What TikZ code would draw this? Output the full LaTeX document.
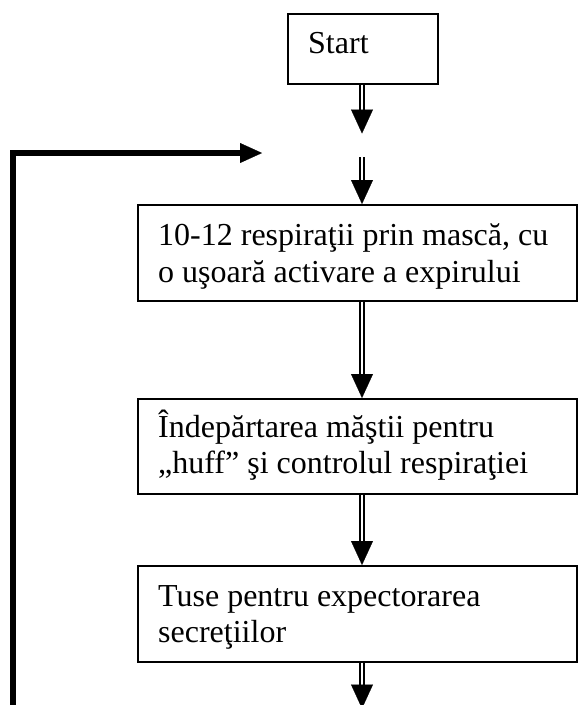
\documentclass[tikz,border=0pt]{standalone}
\usepackage{fontspec}
\setmainfont{Liberation Serif}
\usetikzlibrary{arrows.meta,calc}

\tikzset{
  box/.style={draw, line width=1.5pt, inner sep=0pt, anchor=north west},
  txt/.style={inner sep=0pt, anchor=base west, font=\fontsize{32}{33}\selectfont},
  shaft/.style={double, double distance=2.8pt, line width=1.4pt},
  head/.style={line width=0.2pt, -{Triangle[width=22pt,length=24pt]}},
  fbline/.style={line width=6pt, line join=miter},
  fbhead/.style={line width=0.2pt, -{Triangle[width=20pt,length=22pt]}}
}

\begin{document}
\begin{tikzpicture}[x=1pt, y=-1pt]
  \useasboundingbox (0,0) rectangle (579,705);

  % boxes
  \node[box, minimum width=150pt, minimum height=70pt] (start) at (287,13) {};
  \node[box, minimum width=439pt, minimum height=96pt] (b2) at (137,204) {};
  \node[box, minimum width=439pt, minimum height=95pt] (b3) at (137,398) {};
  \node[box, minimum width=439pt, minimum height=96pt] (b4) at (137,565) {};

  % texts
  \node[txt] (tstart) at (308,53) {Start};
  \node[txt] (t2a) at (158,245) {10-12 respiraţii prin mască, cu};
  \node[txt] (t2b) at (158,282) {o uşoară activare a expirului};
  \node[txt] (t3a) at (158,437) {Îndepărtarea măştii pentru};
  \node[txt] (t3b) at (158,473) {„huff” şi controlul respiraţiei};
  \node[txt] (t4a) at (158,606) {Tuse pentru expectorarea};
  \node[txt] (t4b) at (158,642) {secreţiilor};

  % vertical axis of the flow
  \coordinate (ax) at (362,0);

  % Start -> free end
  \draw[shaft] (start.south -| ax) -- ++(0,25) coordinate (h1);
  \draw[head] (h1) -- ++(0,24) coordinate (e1);

  % re-entry -> box 2
  \coordinate (s2) at (362,157);
  \draw[shaft] (s2) -- ($(s2 |- b2.north)+(0,-24)$) coordinate (h2);
  \draw[head] (h2) -- (ax |- b2.north);

  % box 2 -> box 3
  \draw[shaft] (ax |- b2.south) -- ($(ax |- b3.north)+(0,-24)$) coordinate (h3);
  \draw[head] (h3) -- (ax |- b3.north);

  % box 3 -> box 4
  \draw[shaft] (ax |- b3.south) -- ($(ax |- b4.north)+(0,-24)$) coordinate (h4);
  \draw[head] (h4) -- (ax |- b4.north);

  % box 4 -> free end
  \draw[shaft] (ax |- b4.south) -- ++(0,22) coordinate (h5);
  \draw[head] (h5) -- ++(0,24) coordinate (e5);

  % feedback loop
  \coordinate (fb0) at (13,710);
  \coordinate (fb1) at (13,153);
  \coordinate (fb2) at (240,153);
  \coordinate (fb3) at (262,153);
  \draw[fbline] (fb0) -- (fb1) -- (fb2);
  \draw[fbhead] (fb2) -- (fb3);
\end{tikzpicture}
\end{document}
